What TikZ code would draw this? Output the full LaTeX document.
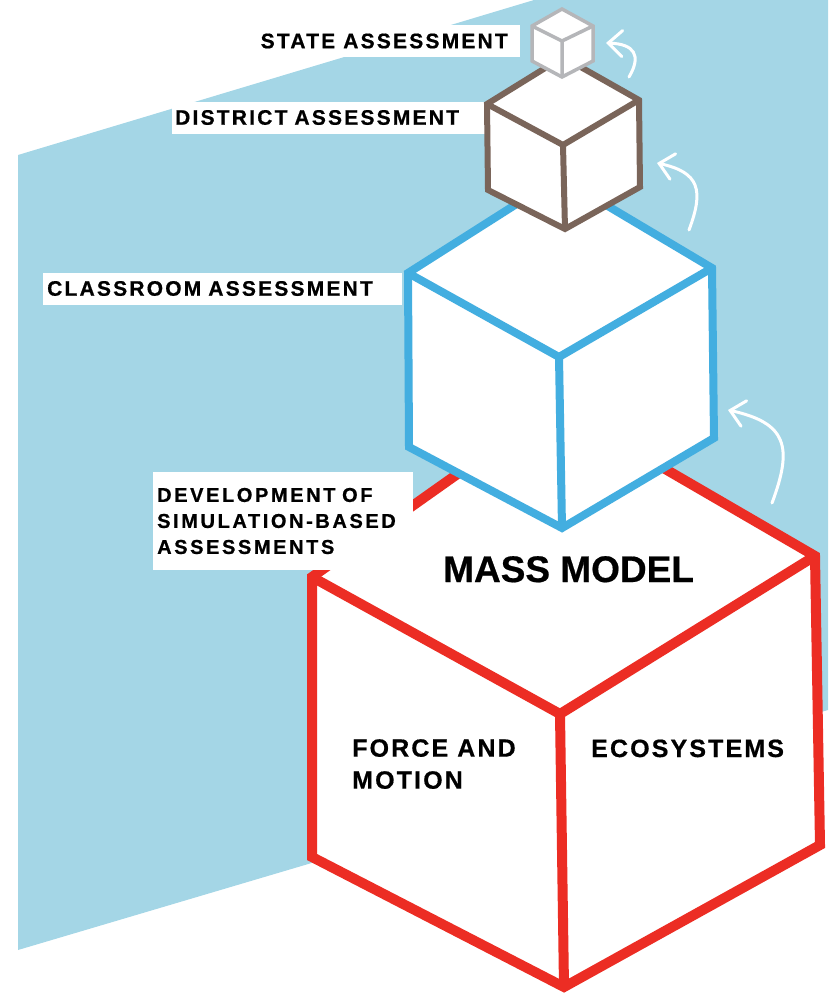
\documentclass[tikz,border=0pt]{standalone}
\usepackage{fontspec}
\setmainfont{Liberation Sans}[BoldFeatures={FakeBold=0.5}]
\newfontfamily\tagfont[LetterSpace=10.5, BoldFeatures={FakeBold=0.7}]{Liberation Sans}
\newfontfamily\devfont[LetterSpace=13, BoldFeatures={FakeBold=0.7}]{Liberation Sans}
\newfontfamily\facefont[LetterSpace=8.5, BoldFeatures={FakeBold=0.6}]{Liberation Sans}
\usetikzlibrary{arrows.meta}

\definecolor{wallblue}{HTML}{A4D6E6}
\definecolor{massred}{HTML}{EC2D24}
\definecolor{roomblue}{HTML}{43AEE0}
\definecolor{distbrown}{HTML}{7A655A}
\definecolor{stategrey}{HTML}{B5B6B9}

\begin{document}
\begin{tikzpicture}[x=1pt, y=-1pt, line join=miter,
  cube/.style = {fill=white, line width=#1},
  tag/.style = {fill=white, inner ysep=0pt, minimum height=32pt, anchor=west, align=left,
    font=\tagfont\bfseries\fontsize{21}{25}\selectfont},
  face/.style = {inner sep=0pt, font=\facefont\bfseries\fontsize{25}{32}\selectfont},
  lift/.style = {draw=white, line width=3pt, line cap=round,
    -{Straight Barb[length=14pt, width=26pt, line cap=round]}}]

  \useasboundingbox (0,0) rectangle (828,1001);
  \fill[wallblue] (18,155) -- (534,0) -- (828,0) -- (828,710) -- (18,950) -- cycle;

  % mass model
  \coordinate (rL) at (312,577);  \coordinate (rK) at (555,405);
  \coordinate (rR) at (815,556);  \coordinate (rF) at (560,714);
  \coordinate (rBL) at (312,857); \coordinate (rB) at (564,987);
  \coordinate (rBR) at (820,845);
  \filldraw[cube=10pt, draw=massred] (rL) -- (rK) -- (rR) -- (rBR) -- (rB) -- (rBL) -- cycle;
  \draw[massred, line width=10pt] (rL) -- (rF) -- (rR) (rF) -- (rB);

  \node[tag, inner xsep=4pt, text width=252pt, minimum height=98pt,
    font=\devfont\bfseries\fontsize{20}{26}\selectfont] (dev) at (153,521)
    {DEVELOPMENT OF\\SIMULATION-BASED\\ASSESSMENTS};

  % classroom
  \coordinate (bL) at (408,273);  \coordinate (bK) at (559,177);
  \coordinate (bR) at (712,268);  \coordinate (bF) at (559,357);
  \coordinate (bBL) at (409,447); \coordinate (bB) at (562,528);
  \coordinate (bBR) at (714,438);
  \filldraw[cube=8pt, draw=roomblue] (bL) -- (bK) -- (bR) -- (bBR) -- (bB) -- (bBL) -- cycle;
  \draw[roomblue, line width=8pt] (bL) -- (bF) -- (bR) (bF) -- (bB);

  \node[tag, inner xsep=4pt, text width=351pt] (room) at (43,288.5) {CLASSROOM ASSESSMENT};

  % district
  \coordinate (nL) at (487,104);  \coordinate (nK) at (563,57);
  \coordinate (nR) at (639,100);  \coordinate (nF) at (563,145);
  \coordinate (nBL) at (488,190); \coordinate (nB) at (565,229);
  \coordinate (nBR) at (640,187);
  \node[tag, inner xsep=3pt, text width=310pt] (dist) at (172,117.5) {DISTRICT ASSESSMENT};
  \filldraw[cube=6pt, draw=distbrown] (nL) -- (nK) -- (nR) -- (nBR) -- (nB) -- (nBL) -- cycle;
  \draw[distbrown, line width=6pt] (nL) -- (nF) -- (nR) (nF) -- (nB);

  % state
  \coordinate (gL) at (532,26);   \coordinate (gT) at (562,9);
  \coordinate (gR) at (593,26);   \coordinate (gF) at (562,41);
  \coordinate (gBL) at (532,61);  \coordinate (gB) at (562,77);
  \coordinate (gBR) at (593,61);
  \filldraw[cube=3.5pt, draw=stategrey] (gL) -- (gT) -- (gR) -- (gBR) -- (gB) -- (gBL) -- cycle;
  \draw[stategrey, line width=3.5pt] (gL) -- (gF) -- (gR) (gF) -- (gB);
  \node[tag, anchor=east, inner xsep=12pt] (state) at (520,41) {STATE ASSESSMENT};

  \node[inner sep=0pt, anchor=base west, font=\bfseries\fontsize{37}{40}\selectfont] (mass) at (443,582) {MASS MODEL};
  \node[face, anchor=north west, align=left] (force) at (352,739) {FORCE AND\\MOTION};
  \node[face, anchor=base west] (eco) at (591,757) {ECOSYSTEMS};

  \coordinate (s1) at (629,77);  \coordinate (e1) at (606,43);
  \coordinate (s2) at (689,230); \coordinate (e2) at (657,163);
  \coordinate (s3) at (772,503); \coordinate (e3) at (728,410);
  \draw[lift] (s1) .. controls (642,55) and (634,44) .. (e1);
  \draw[lift] (s2) .. controls (704,190) and (699.5,172.4) .. (e2);
  \draw[lift] (s3) .. controls (793,447) and (787,423) .. (e3);

\end{tikzpicture}
\end{document}
